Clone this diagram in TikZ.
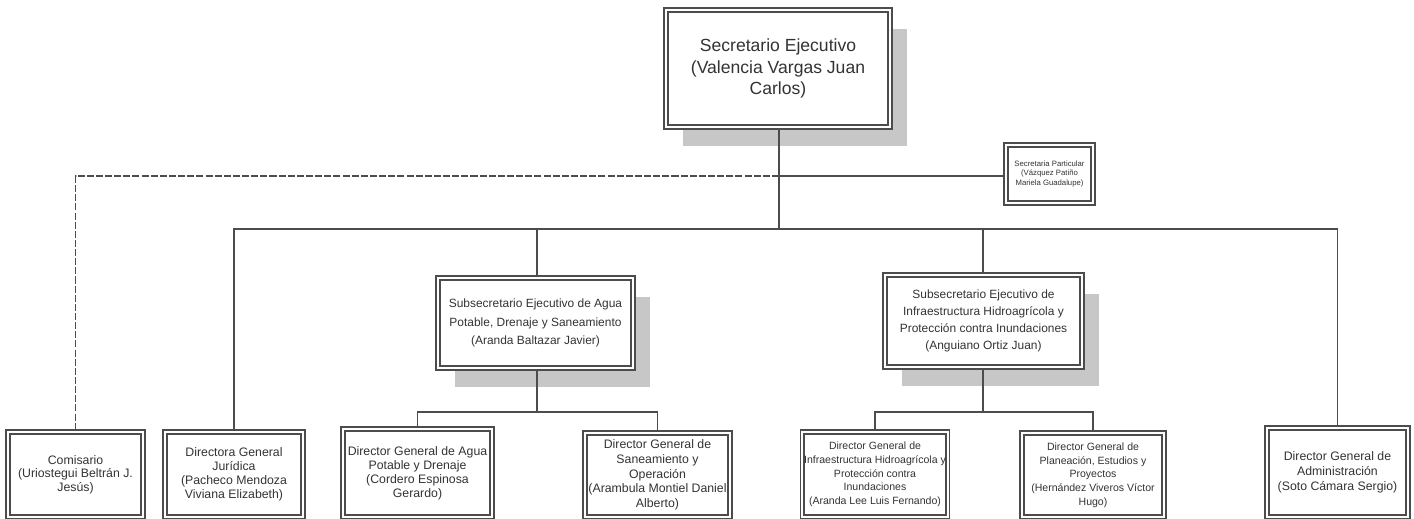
\documentclass[tikz,border=0pt]{standalone}
\usepackage{fontspec}
\setmainfont{Liberation Sans}
\usetikzlibrary{calc}
\usetikzlibrary{positioning}
\usetikzlibrary{shadows}

\begin{document}
\begin{tikzpicture}[x=0.02cm, y=-0.02cm, semithick]
  \tikzstyle{puesto}=[draw=black!70, line width=0.9pt, double=white, double distance=1.1pt,
    fill=white, align=center, inner sep=1pt, text=black!80]
  \tikzstyle{sombra}=[drop shadow={shadow xshift=0.34cm, shadow yshift=-0.38cm, fill=black!22, opacity=1}]
  \tikzstyle{linea}=[draw=black!70, line width=0.9pt]
  \tikzstyle{tiny}=[font=\fontsize{4.4}{5.6}\selectfont]
  \tikzstyle{small}=[font=\fontsize{6}{7.8}\selectfont]
  \tikzstyle{normal}=[font=\fontsize{7}{8}\selectfont]
  \tikzstyle{sub}=[font=\fontsize{6.8}{10.5}\selectfont]

\useasboundingbox (0,0) rectangle (1414,519);

\node[puesto,sombra,line width=1.2pt,double distance=1.4pt,font=\fontsize{10}{12}\selectfont,
      minimum width=4.48cm,minimum height=2.34cm] (sec) at (778,68.5)
  {Secretario Ejecutivo\\(Valencia Vargas Juan\\Carlos)};
\node[puesto,tiny,minimum width=1.74cm,minimum height=1.16cm] (part) at (1049.5,174)
  {Secretaria Particular\\(Vázquez Patiño\\Mariela Guadalupe)};

\node[puesto,sombra,sub,minimum width=3.9cm,minimum height=1.8cm] (sub1) at (535.5,323)
  {Subsecretario Ejecutivo de Agua\\Potable, Drenaje y Saneamiento\\(Aranda Baltazar Javier)};
\node[puesto,sombra,sub,font=\fontsize{6.8}{9.8}\selectfont,minimum width=3.94cm,minimum height=1.84cm] (sub2) at (983.5,321)
  {Subsecretario Ejecutivo de\\Infraestructura Hidroagrícola y\\Protección contra Inundaciones\\(Anguiano Ortiz Juan)};

\node[puesto,normal,font=\fontsize{7}{7.7}\selectfont,minimum width=2.7cm,minimum height=1.7cm] (com) at (75.5,474.5)
  {Comisario\\(Uriostegui Beltrán J.\\Jesús)};
\node[puesto,normal,minimum width=2.76cm,minimum height=1.7cm] (jur) at (234,474.5)
  {Directora General\\Jurídica\\(Pacheco Mendoza\\Viviana Elizabeth)};
\node[puesto,normal,minimum width=2.98cm,minimum height=1.76cm] (cor) at (417.5,473)
  {Director General de Agua\\Potable y Drenaje\\(Cordero Espinosa\\Gerardo)};
\node[puesto,normal,font=\fontsize{7}{8.4}\selectfont,minimum width=2.9cm,minimum height=1.68cm] (ara) at (657.5,475)
  {Director General de\\Saneamiento y\\Operación\\(Arambula Montiel Daniel\\Alberto)};
\node[puesto,small,minimum width=2.88cm,minimum height=1.7cm] (inf) at (875,474.5)
  {Director General de\\Infraestructura Hidroagrícola y\\Protección contra\\Inundaciones\\(Aranda Lee Luis Fernando)};
\node[puesto,small,minimum width=2.84cm,minimum height=1.68cm] (pla) at (1093,475)
  {Director General de\\Planeación, Estudios y\\Proyectos\\(Hernández Viveros Víctor\\Hugo)};
\node[puesto,normal,font=\fontsize{7}{8.5}\selectfont,minimum width=2.82cm,minimum height=1.78cm] (adm) at (1337.5,472.5)
  {Director General de\\Administración\\(Soto Cámara Sergio)};

\coordinate (bus) at (779,229);
\coordinate (rama) at (779,176);
\coordinate (br1) at (537,412);
\coordinate (br2) at (983,412);

\draw[linea] (sec.south -| bus) -- (bus);
\draw[linea] (rama) -- (part.west |- rama);
\draw[linea,dash pattern=on 4pt off 1.2pt] (rama) -- (com |- rama) -- (com.north);
\draw[linea] (jur.north) |- (bus) -| (adm.north);
\draw[linea] (sub1.north -| br1) -- (br1 |- bus);
\draw[linea] (sub2.north -| br2) -- (br2 |- bus);

\draw[linea] (sub1.south -| br1) -- (br1);
\draw[linea] (cor.north) |- (br1) -| (ara.north);
\draw[linea] (sub2.south -| br2) -- (br2);
\draw[linea] (inf.north) |- (br2) -| (pla.north);
\end{tikzpicture}
\end{document}
